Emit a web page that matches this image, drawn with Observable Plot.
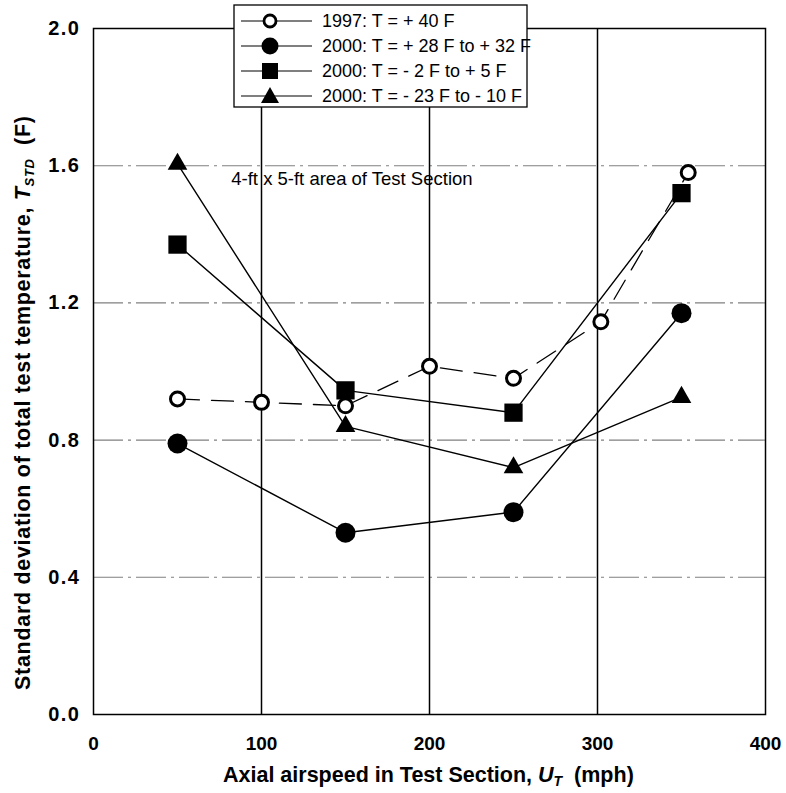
<!DOCTYPE html>
<html>
<head>
<meta charset="utf-8">
<script src="https://cdn.jsdelivr.net/npm/d3@7"></script>
<script src="https://cdn.jsdelivr.net/npm/@observablehq/plot@0.6"></script>
<style>
  html, body { margin: 0; padding: 0; background: #fff; }
  #chart { width: 786px; height: 793px; }
</style>
</head>
<body>
<div id="chart"></div>
<script>
// ---- data ----
const s1997x = [50, 100, 150, 200, 250, 302, 354];
const s1997y = [0.92, 0.91, 0.90, 1.015, 0.98, 1.145, 1.58];

const s2000ax = [50, 150, 250, 350];
const s2000ay = [0.79, 0.53, 0.59, 1.17];   // +28 F to +32 F (filled circle)

const s2000bx = [50, 150, 250, 350];
const s2000by = [1.37, 0.945, 0.88, 1.52];  // -2 F to +5 F (square)

const s2000cx = [50, 150, 250, 350];
const s2000cy = [1.605, 0.84, 0.72, 0.925]; // -23 F to -10 F (triangle)

const xTicks = [0, 100, 200, 300, 400];
const yTicks = [0.0, 0.4, 0.8, 1.2, 1.6, 2.0];
const yGrid = [0.4, 0.8, 1.2, 1.6];
const xGrid = [100, 200, 300];

const legendLabels = [
  "1997: T = + 40 F",
  "2000: T = + 28 F to + 32 F",
  "2000: T = - 2 F to + 5 F",
  "2000: T = - 23 F to - 10 F"
];
const annotation = "4-ft x 5-ft area of Test Section";

const zip = (xs, ys) => xs.map((x, i) => ({x, y: ys[i]}));
const d1997 = zip(s1997x, s1997y);
const dA = zip(s2000ax, s2000ay);
const dB = zip(s2000bx, s2000by);
const dC = zip(s2000cx, s2000cy);

const W = 786, H = 793;
const mL = 93, mR = 21, mT = 28, mB = 79;
const FONT = "'Liberation Sans', Arial, sans-serif";

const plot = Plot.plot({
  width: W,
  height: H,
  marginLeft: mL,
  marginRight: mR,
  marginTop: mT,
  marginBottom: mB,
  style: {fontFamily: FONT, background: "#fff"},
  x: {domain: [0, 400], ticks: xTicks, tickFormat: d => d3.format("d")(d), label: null, tickSize: 0, tickPadding: 22},
  y: {domain: [0, 2], ticks: yTicks, tickFormat: d3.format(".1f"), label: null, tickSize: 0, tickPadding: 13},
  marks: [
    Plot.ruleY(yGrid, {stroke: "#808080", strokeWidth: 1.1, strokeDasharray: "30,5,3,5"}),
    Plot.ruleX(xGrid, {stroke: "#000", strokeWidth: 1.5}),
    Plot.frame({stroke: "#000", strokeWidth: 1.5}),
    Plot.text([annotation], {x: 82, y: 1.56, text: d => d, textAnchor: "start", fontSize: 18.5, fill: "#000"}),
    Plot.line(dC, {x: "x", y: "y", stroke: "#000", strokeWidth: 1.4}),
    Plot.line(dB, {x: "x", y: "y", stroke: "#000", strokeWidth: 1.4}),
    Plot.line(dA, {x: "x", y: "y", stroke: "#000", strokeWidth: 1.4}),
    Plot.line(d1997, {x: "x", y: "y", stroke: "#000", strokeWidth: 1.3, strokeDasharray: "22,12"}),
    Plot.dot(dC, {x: "x", y: "y", symbol: "triangle", r: 7.3, fill: "#000", stroke: "none"}),
    Plot.dot(dB, {x: "x", y: "y", symbol: "square", r: 10.3, fill: "#000", stroke: "none"}),
    Plot.dot(dA, {x: "x", y: "y", symbol: "circle", r: 10, fill: "#000", stroke: "none"}),
    Plot.dot(d1997, {x: "x", y: "y", symbol: "circle", r: 7, fill: "#fff", stroke: "#000", strokeWidth: 3})
  ]
});

document.getElementById("chart").appendChild(plot);

const svg = d3.select(plot);
svg.selectAll("g[aria-label='x-axis tick label'], g[aria-label='y-axis tick label']")
  .attr("font-size", 19).attr("font-weight", "bold");
svg.selectAll("g[aria-label='x-axis tick label'] text")
  .style("font-size", "19px").style("font-weight", "bold").attr("fill", "#000");
svg.selectAll("g[aria-label='y-axis tick label'] text")
  .style("font-size", "20px").style("font-weight", "bold").style("letter-spacing", "1.5px").attr("fill", "#000");

// x-axis label with italic U and subscript T
const xl = svg.append("text")
  .attr("x", 223).attr("y", 782)
  .attr("text-anchor", "start")
  .attr("font-size", 21.5).attr("font-weight", "bold")
  .attr("font-family", FONT);
xl.append("tspan").text("Axial airspeed in Test Section, ");
xl.append("tspan").attr("font-style", "italic").text("U");
xl.append("tspan").attr("font-style", "italic").attr("font-size", 14).attr("dy", 4).text("T");
xl.append("tspan").attr("dy", -4).text("\u00a0 (mph)");

// y-axis label (starts at bottom, reads upward)
const ylt = svg.append("text")
  .attr("transform", "translate(30, 690) rotate(-90)")
  .attr("x", 0).attr("y", 0)
  .attr("text-anchor", "start")
  .attr("font-size", 21.5).attr("font-weight", "bold")
  .attr("letter-spacing", "0.7px")
  .attr("font-family", FONT);
ylt.append("tspan").text("Standard deviation of total test temperature, ");
ylt.append("tspan").attr("font-style", "italic").text("T");
ylt.append("tspan").attr("font-style", "italic").attr("font-size", 13).attr("dy", 4).text("STD");
ylt.append("tspan").attr("dy", -4).text("\u00a0 (F)");

// legend box
const lg = svg.append("g").attr("font-family", FONT).attr("text-anchor", "start");
lg.append("rect").attr("x", 234).attr("y", 5).attr("width", 293).attr("height", 102)
  .attr("fill", "#fff").attr("stroke", "#000").attr("stroke-width", 1.3);
const rowsY = [21, 46, 71, 96];
const mx = 270;
legendLabels.forEach((lab, i) => {
  const y = rowsY[i];
  lg.append("line").attr("x1", 241).attr("x2", 312).attr("y1", y).attr("y2", y)
    .attr("stroke", "#000").attr("stroke-width", 1.2);
  if (i === 0) {
    lg.append("circle").attr("cx", mx).attr("cy", y).attr("r", 6).attr("fill", "#fff")
      .attr("stroke", "#000").attr("stroke-width", 2.8);
  } else if (i === 1) {
    lg.append("circle").attr("cx", mx).attr("cy", y).attr("r", 8.5).attr("fill", "#000");
  } else if (i === 2) {
    lg.append("rect").attr("x", mx - 8).attr("y", y - 8).attr("width", 16).attr("height", 16).attr("fill", "#000");
  } else {
    lg.append("path").attr("d", `M${mx},${y - 9}L${mx + 9},${y + 7}L${mx - 9},${y + 7}Z`).attr("fill", "#000");
  }
  lg.append("text").attr("x", 322).attr("y", y).attr("dy", "0.36em")
    .attr("text-anchor", "start")
    .attr("font-size", 18).attr("fill", "#000").text(lab);
});
</script>
</body>
</html>
